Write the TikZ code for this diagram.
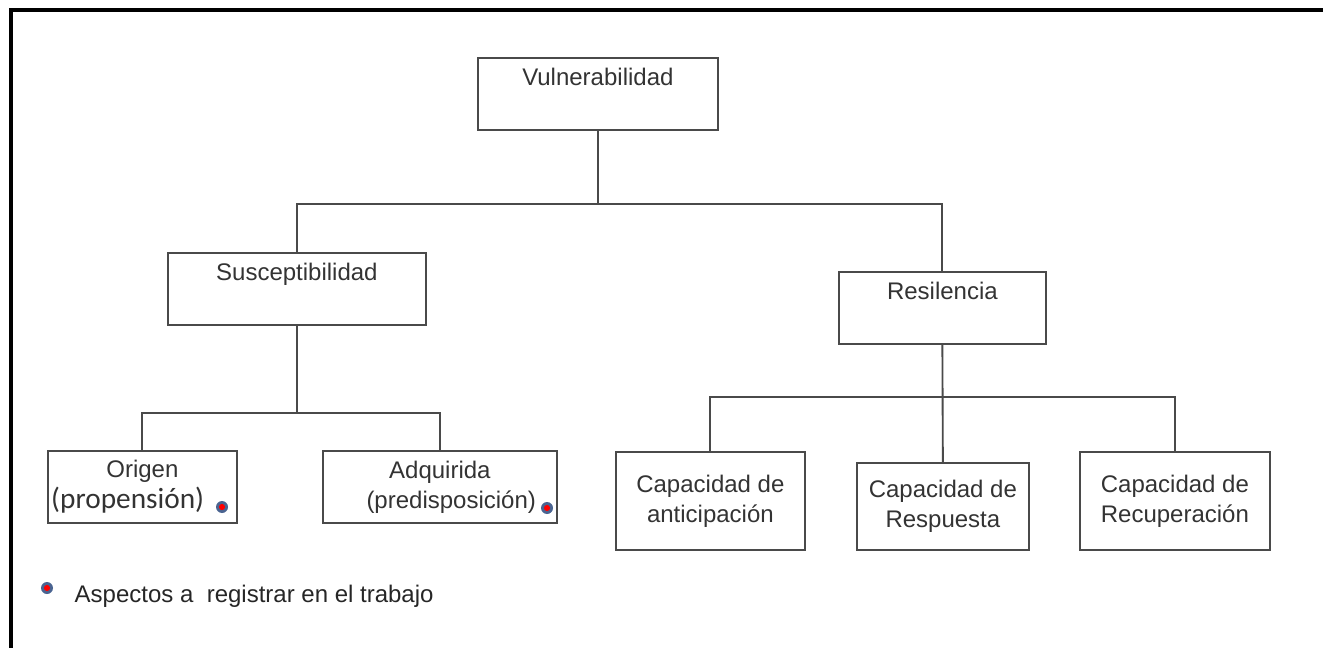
\documentclass[tikz,border=0pt]{standalone}
\usepackage{fontspec}
\setmainfont{Liberation Sans}
\newfontfamily\calfont{Carlito}
\definecolor{boxgray}{HTML}{4A4A4A}
\definecolor{txtgray}{HTML}{333333}
\definecolor{dotblue}{HTML}{4A6491}
\definecolor{dotred}{HTML}{FF0000}
\begin{document}
\begin{tikzpicture}[x=0.75pt, y=-0.75pt,
  every node/.style={text=txtgray, font=\fontsize{18}{22.5}\selectfont},
  box/.style 2 args={draw=boxgray, line width=1.3pt, inner sep=0pt, anchor=north west,
    minimum width=#1*0.75pt, minimum height=#2*0.75pt, align=center},
  topbox/.style={box={#1}{72}, text height=21pt, text depth=33pt},
  conn/.style={draw=boxgray, line width=1.4pt},
  dotmark/.style={circle, fill=dotblue, inner sep=0pt, minimum size=9pt,
    path picture={\fill[dotred] (path picture bounding box.center) circle (2.3pt);}}]
  \useasboundingbox (0,0) rectangle (1323,648);
  % frame (top and left edges)
  \draw[line width=3pt] (10.5,648) -- (10.5,10) -- (1323,10);

  % first level
  \node[topbox=240] (vul) at (477,57) {Vulnerabilidad};
  % second level
  \node[topbox=258] (sus) at (167,252) {Susceptibilidad};
  \node[topbox=207] (res) at (838,271) {Resilencia};
  % third level
  \node[box={189}{72}] (ori) at (47,450)
    {Origen\\[1pt]{\calfont\fontsize{22}{26}\selectfont(propensión)}\hspace*{22pt}};
  \node[box={234}{72}] (adq) at (322,450)
    {Adquirida\\\hspace*{17pt}(predisposición)};
  \node[box={189}{98}] (ant) at (615,451) {Capacidad de\\anticipación};
  \node[box={172}{87}] (rsp) at (856,462) {Capacidad de\\Respuesta};
  \node[box={190}{98}] (rec) at (1079,451) {Capacidad de\\Recuperación};

  % bus levels
  \coordinate (busA) at (0,204);
  \coordinate (busB) at (0,413);
  \coordinate (busC) at (0,397);

  % connectors
  \draw[conn] (vul.south) -- (vul.south |- busA);
  \draw[conn] (sus.north) -- (sus.north |- busA) -- (res.north |- busA) -- (res.north);
  \draw[conn] (sus.south) -- (sus.south |- busB);
  \draw[conn] (ori.north) -- (ori.north |- busB) -- (adq.north |- busB) -- (adq.north);
  \draw[conn] (res.south) -- (rsp.north);
  \draw[conn] (ant.north) -- (ant.north |- busC) -- (rec.north |- busC) -- (rec.north);

  % marks of the aspects to record
  \node[dotmark] (m1) at (222,507) {};
  \node[dotmark] (m2) at (547,508) {};
  \node[dotmark] (m3) at (47,588) {};
  \node[anchor=base west, text=black!85] (leg) at (70,602) {Aspectos a\ \ registrar en el trabajo};
\end{tikzpicture}
\end{document}
